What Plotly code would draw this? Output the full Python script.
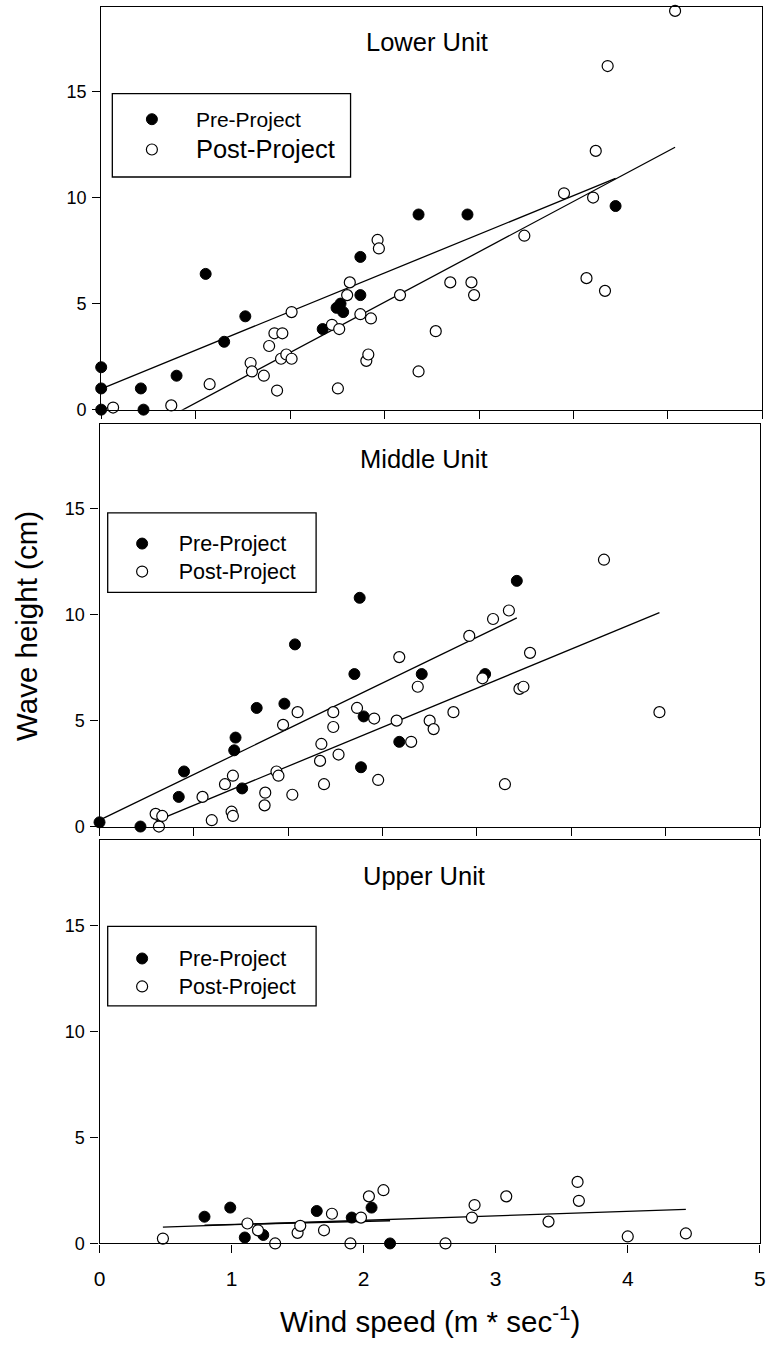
import plotly.graph_objects as go

# ---------------------------------------------------------------------------
# Wave height vs. wind speed, three river units, before/after the project
# ---------------------------------------------------------------------------

# Lower Unit
lower_pre_x = [0, 0, 0, 0.30, 0.32, 0.57, 0.79, 0.93, 1.09, 1.675, 1.78, 1.81,
               1.83, 1.96, 1.96, 2.40, 2.77, 3.89]
lower_pre_y = [2.0, 1.0, 0, 1.0, 0, 1.6, 6.4, 3.2, 4.4, 3.8, 4.8, 5.0,
               4.6, 7.2, 5.4, 9.2, 9.2, 9.6]
lower_post_x = [0.09, 0.53, 0.82, 1.13, 1.14, 1.23, 1.27, 1.31, 1.33, 1.36,
                1.37, 1.40, 1.44, 1.44, 1.745, 1.79, 1.80, 1.86, 1.88, 1.96,
                2.005, 2.02, 2.04, 2.09, 2.10, 2.26, 2.40, 2.53, 2.64, 2.80,
                2.82, 3.20, 3.50, 3.67, 3.72, 3.74, 3.81, 3.83, 4.34]
lower_post_y = [0.1, 0.2, 1.2, 2.2, 1.8, 1.6, 3.0, 3.6, 0.9, 2.4,
                3.6, 2.6, 2.4, 4.6, 4.0, 1.0, 3.8, 5.4, 6.0, 4.5,
                2.3, 2.6, 4.3, 8.0, 7.6, 5.4, 1.8, 3.7, 6.0, 6.0,
                5.4, 8.2, 10.2, 6.2, 10.0, 12.2, 5.6, 16.2, 18.8]
lower_pre_fit_x = [0, 3.89]
lower_pre_fit_y = [0.98, 10.9]
lower_post_fit_x = [0.09, 4.34]
lower_post_fit_y = [-1.76, 12.37]

# Middle Unit
middle_pre_x = [0, 0.31, 0.60, 0.64, 1.02, 1.03, 1.08, 1.19, 1.40, 1.48, 1.93,
                1.97, 2.00, 1.98, 2.27, 2.44, 2.92, 3.16]
middle_pre_y = [0.2, 0, 1.4, 2.6, 3.6, 4.2, 1.8, 5.6, 5.8, 8.6, 7.2,
                10.8, 5.2, 2.8, 4.0, 7.2, 7.2, 11.6]
middle_post_x = [0.425, 0.475, 0.45, 0.78, 0.85, 0.95, 1.00, 1.01, 1.01, 1.25,
                 1.255, 1.34, 1.355, 1.39, 1.46, 1.50, 1.67, 1.68, 1.70, 1.77,
                 1.77, 1.81, 1.95, 2.08, 2.11, 2.25, 2.27, 2.36, 2.41, 2.50,
                 2.53, 2.68, 2.80, 2.90, 2.98, 3.07, 3.10, 3.18, 3.21, 3.26,
                 3.82, 4.24]
middle_post_y = [0.6, 0.5, 0, 1.4, 0.3, 2.0, 0.7, 0.5, 2.4, 1.0,
                 1.6, 2.6, 2.4, 4.8, 1.5, 5.4, 3.1, 3.9, 2.0, 5.4,
                 4.7, 3.4, 5.6, 5.1, 2.2, 5.0, 8.0, 4.0, 6.6, 5.0,
                 4.6, 5.4, 9.0, 7.0, 9.8, 2.0, 10.2, 6.5, 6.6, 8.2,
                 12.6, 5.4]
middle_pre_fit_x = [0, 3.16]
middle_pre_fit_y = [0.3, 9.85]
middle_post_fit_x = [0.425, 4.24]
middle_post_fit_y = [0.26, 10.1]

# Upper Unit
upper_pre_x = [0.795, 0.99, 1.10, 1.24, 1.645, 1.91, 2.06, 2.20]
upper_pre_y = [1.26, 1.69, 0.28, 0.4, 1.53, 1.22, 1.69, 0]
upper_post_x = [0.48, 1.12, 1.20, 1.33, 1.50, 1.52, 1.70, 1.76, 1.90, 1.98,
                2.04, 2.15, 2.62, 2.82, 2.84, 3.08, 3.40, 3.62, 3.63, 4.00, 4.44]
upper_post_y = [0.23, 0.94, 0.62, 0, 0.5, 0.83, 0.62, 1.40, 0, 1.22,
                2.22, 2.51, 0, 1.22, 1.81, 2.22, 1.03, 2.90, 2.01, 0.33, 0.47]
upper_pre_fit_x = [0.795, 2.20]
upper_pre_fit_y = [0.86, 1.07]
upper_post_fit_x = [0.48, 4.44]
upper_post_fit_y = [0.77, 1.61]

panel_titles = ["Lower Unit", "Middle Unit", "Upper Unit"]
series_names = ["Pre-Project", "Post-Project"]
x_tick_values = [0, 1, 2, 3, 4, 5]
y_tick_values = [0, 5, 10, 15]
x_title = "Wind speed (m * sec<sup>-1</sup>)"
y_title = "Wave height (cm)"

# ---------------------------------------------------------------------------
W, H = 772, 1353
FONT = "Arial, 'Liberation Sans', sans-serif"


def fx(p):
    return p / W


def fy(p):
    return 1 - p / H


# pixel boxes of the three panels (left, right, top, bottom)
boxes = [(96.7, 768.3, 6.7, 412.7),
         (95.0, 765.7, 427.3, 832.7),
         (95.0, 765.7, 846.7, 1252.7)]

fig = go.Figure()

panels = [
    (lower_pre_x, lower_pre_y, lower_post_x, lower_post_y,
     [(lower_pre_fit_x, lower_pre_fit_y), (lower_post_fit_x, lower_post_fit_y)]),
    (middle_pre_x, middle_pre_y, middle_post_x, middle_post_y,
     [(middle_pre_fit_x, middle_pre_fit_y), (middle_post_fit_x, middle_post_fit_y)]),
    (upper_pre_x, upper_pre_y, upper_post_x, upper_post_y,
     [(upper_pre_fit_x, upper_pre_fit_y), (upper_post_fit_x, upper_post_fit_y)]),
]

# legend label sizes per panel (the Lower Unit legend uses a larger "Post" label)
label_sizes = [(21, 25.5), (21.5, 21.5), (21.5, 21.5)]

for i, (px_, py_, qx, qy, fits) in enumerate(panels):
    suffix = "" if i == 0 else str(i + 1)
    xa, ya = "x" + suffix, "y" + suffix
    leg = "legend" + suffix
    for lx, ly in fits:
        fig.add_trace(go.Scatter(x=lx, y=ly, mode="lines",
                                 line=dict(color="black", width=1.3),
                                 xaxis=xa, yaxis=ya, showlegend=False,
                                 hoverinfo="skip"))
    s_pre, s_post = label_sizes[i]
    fig.add_trace(go.Scatter(
        x=px_, y=py_, mode="markers",
        name=f"<span style='font-size:{s_pre}px'>{series_names[0]}</span>",
        marker=dict(symbol="circle", size=11, color="black",
                    line=dict(color="black", width=1)),
        xaxis=xa, yaxis=ya, legend=leg, cliponaxis=False))
    fig.add_trace(go.Scatter(
        x=qx, y=qy, mode="markers",
        name=f"<span style='font-size:{s_post}px'>{series_names[1]}</span>",
        marker=dict(symbol="circle", size=11, color="white",
                    line=dict(color="black", width=1.2)),
        xaxis=xa, yaxis=ya, legend=leg, cliponaxis=False))

axis_common = dict(showgrid=False, zeroline=False, showline=True,
                   linecolor="black", linewidth=1.3, mirror=True,
                   ticks="outside", ticklen=8, tickwidth=1.3,
                   tickcolor="black")

layout = dict(
    width=W, height=H, margin=dict(l=0, r=0, t=0, b=0),
    paper_bgcolor="white", plot_bgcolor="white",
    font=dict(family=FONT, color="black"),
    showlegend=True,
)

for i, (l, r, t, b) in enumerate(boxes):
    suffix = "" if i == 0 else str(i + 1)
    xkey, ykey = "xaxis" + suffix, "yaxis" + suffix
    xa = dict(axis_common, domain=[fx(l), fx(r)], range=[0, 5],
              anchor="y" + suffix)
    if i < 2:
        xa.update(tick0=0, dtick=5 / 7, showticklabels=False)
    else:
        xa.update(tickvals=x_tick_values,
                  ticktext=[str(v) for v in x_tick_values],
                  tickfont=dict(size=21, family=FONT, color="black"),
                  ticklabelstandoff=8)
    ya = dict(axis_common, domain=[fy(b), fy(t)], range=[0, 19],
              anchor="x" + suffix, tickvals=y_tick_values,
              ticktext=[str(v) for v in y_tick_values],
              tickfont=dict(size=18, family=FONT, color="black"),
              ticklabelstandoff=2)
    layout[xkey] = xa
    layout[ykey] = ya

# legends: (left, top, legend font size, item width)
legend_pos = [(103.5, 99.8, 21, 78), (101.2, 528.5, 19.2, 63),
              (101.2, 946.5, 19.2, 63)]
for i, (l, t, fs, iw) in enumerate(legend_pos):
    key = "legend" if i == 0 else "legend" + str(i + 1)
    layout[key] = dict(x=fx(l), y=fy(t), xanchor="left", yanchor="top",
                       xref="paper", yref="paper",
                       bgcolor="rgba(0,0,0,0)", borderwidth=0,
                       font=dict(size=fs, family=FONT, color="black"),
                       itemwidth=iw, tracegroupgap=0, traceorder="normal")

# legend frames
legend_frames = [(108, 350, 94.3, 178.3), (103.3, 315, 516.7, 596.7),
                 (103.3, 315, 933.3, 1013.3)]
layout["shapes"] = [dict(type="rect", xref="paper", yref="paper",
                         x0=fx(l), x1=fx(r), y0=fy(b), y1=fy(t),
                         line=dict(color="black", width=1.3),
                         fillcolor="rgba(0,0,0,0)")
                    for (l, r, t, b) in legend_frames]

title_pos = [(427.2, 42.2), (424.5, 462.5), (424.7, 882.5)]
annotations = []
for text, (x, y) in zip(panel_titles, title_pos):
    annotations.append(dict(text=text, x=fx(x), y=fy(y), xref="paper",
                            yref="paper", xanchor="center", yanchor="middle",
                            showarrow=False,
                            font=dict(size=25.5, family=FONT, color="black")))
annotations.append(dict(text=y_title, x=fx(21), y=fy(631), xref="paper",
                        yref="paper", xanchor="center", yanchor="middle",
                        textangle=-90, showarrow=False,
                        font=dict(size=29.5, family=FONT, color="black")))
annotations.append(dict(text=x_title, x=fx(430.5), y=fy(1329), xref="paper",
                        yref="paper", xanchor="center", yanchor="middle",
                        showarrow=False,
                        font=dict(size=29.5, family=FONT, color="black")))
layout["annotations"] = annotations

fig.update_layout(**layout)
fig.write_html("out.html")
